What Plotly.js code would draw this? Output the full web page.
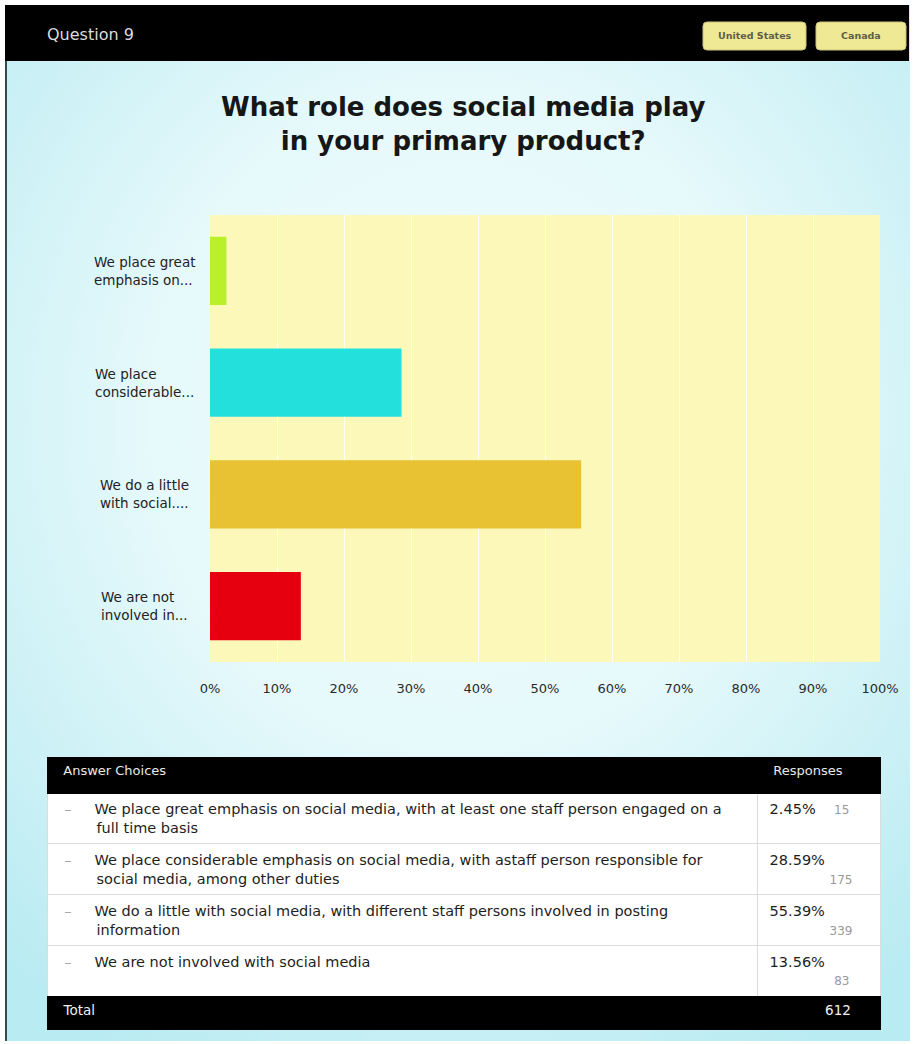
<!DOCTYPE html>
<html>
<head>
<meta charset="utf-8">
<script src="https://cdn.plot.ly/plotly-3.0.1.min.js"></script>
<style>
  html, body { margin:0; padding:0; background:#ffffff; }
  #wrap { position:relative; width:916px; height:1044px; overflow:hidden; background:#ffffff; }
  #bg { position:absolute; left:5px; top:5px; width:905px; height:1036px;
        background: radial-gradient(ellipse 75% 70% at 50% 40%, #f1fdfd 0%, #e6f9fb 45%, #c9f0f5 80%, #b9ebf2 100%);
        border-left:2px solid #3a4a4c; box-sizing:border-box; }
  #chart { position:absolute; left:0; top:0; width:916px; height:1044px; }
</style>
</head>
<body>
<div id="wrap"><div id="bg"></div><div id="chart"></div></div>
<script>
// ---- data ----
const categories = [
  "We place great<br>emphasis on...",
  "We place<br>considerable...",
  "We do a little<br>with social....",
  "We are not<br>involved in..."
];
const percents = [2.45, 28.59, 55.39, 13.56];
const counts = [15, 175, 339, 83];
const barColors = ["#baf02a", "#24e0dc", "#e8c232", "#e6000f"];
const answerLines = [
  ["We place great emphasis on social media, with at least one staff person engaged on a", "full time basis"],
  ["We place considerable emphasis on social media, with astaff person responsible for", "social media, among other duties"],
  ["We do a little with social media, with different staff persons involved in posting", "information"],
  ["We are not involved with social media", ""]
];
const totalCount = 612;
const xTickVals = [0, 10, 20, 30, 40, 50, 60, 70, 80, 90, 100];
const xTickText = ["0%", "10%", "20%", "30%", "40%", "50%", "60%", "70%", "80%", "90%", "100%"];
const tableHeader = ["Answer Choices", "Responses"];
const pageTitle = "What role does social media play<br>in your primary product?";
const questionLabel = "Question 9";
const buttons = ["United States", "Canada"];

// ---- helpers ----
const W = 916, H = 1044;
const FONT = "DejaVu Sans, Verdana, sans-serif";
const px = x => x / W;
const py = y => 1 - y / H;
const sp = n => "\u00a0".repeat(n);

function roundRect(x0, y0, x1, y1, r) {
  const X0 = px(x0), X1 = px(x1), Y0 = py(y0), Y1 = py(y1);
  const rx = r / W, ry = r / H;
  return `M${X0+rx},${Y0} L${X1-rx},${Y0} Q${X1},${Y0} ${X1},${Y0-ry} L${X1},${Y1+ry} Q${X1},${Y1} ${X1-rx},${Y1} L${X0+rx},${Y1} Q${X0},${Y1} ${X0},${Y1+ry} L${X0},${Y0-ry} Q${X0},${Y0} ${X0+rx},${Y0} Z`;
}

// ---- table cells ----
const bullet = "<span style='color:#aaaaaa'>\u2013</span>";
const col1 = answerLines.map(l => sp(2) + bullet + sp(5) + l[0] + "<br>" + (l[1] ? sp(9) + l[1] : sp(1)));
const col2 = percents.map((p, i) => {
  const pct = sp(1) + p.toFixed(2) + "%";
  const cnt = "<span style='color:#999999;font-size:12px'>" + counts[i] + "</span>";
  if (i === 0) return pct + sp(4) + cnt + "<br>" + sp(1);
  const pad = String(counts[i]).length === 2 ? 15 : 14;
  return "<br>".replace("<br>", pct + "<br>" + sp(pad) + cnt);
});
col1.push(sp(2) + "Total");
col2.push(sp(14) + totalCount);

const nRows = col1.length;
const isTot = i => i === nRows - 1;
const fillCol = Array.from({length: nRows}, (_, i) => isTot(i) ? "#000000" : "#ffffff");
const fontCol = Array.from({length: nRows}, (_, i) => isTot(i) ? "#f0f0f0" : "#1e1e1e");
const sizeCol = Array.from({length: nRows}, (_, i) => isTot(i) ? 13.5 : 14.5);
const lineCol = Array.from({length: nRows}, (_, i) => isTot(i) ? "#000000" : "#dcdcdc");

// y-axis category labels (left-aligned blocks, centred on the label column)
const labelAnnotations = categories.map(c => ({
  xref: "paper", yref: "y", x: px(144), y: c, xanchor: "center", yanchor: "middle",
  text: c, align: "left", showarrow: false,
  font: { family: FONT, size: 13.5, color: "#222222" }
}));

const traces = [
  {
    type: "bar",
    orientation: "h",
    y: categories,
    x: percents,
    marker: { color: barColors },
    width: 0.61,
    hoverinfo: "x",
    xaxis: "x", yaxis: "y"
  },
  {
    type: "table",
    domain: { x: [px(47), px(880)], y: [0, py(757)] },
    columnwidth: [710, 123],
    header: {
      values: [sp(2) + tableHeader[0], sp(2) + tableHeader[1]],
      align: "left",
      height: 36,
      fill: { color: "#000000" },
      line: { color: "#000000", width: 1 },
      font: { family: FONT, size: 13, color: "#e8e8e8" }
    },
    cells: {
      values: [col1, col2],
      align: "left",
      height: 33,
      fill: { color: [fillCol, fillCol] },
      line: { color: [lineCol, lineCol], width: 1 },
      font: { family: FONT, size: [sizeCol, sizeCol], color: [fontCol, fontCol] }
    }
  }
];

const shapes = [
  { type: "rect", xref: "paper", yref: "paper", x0: px(5), x1: px(909), y0: py(61), y1: py(5),
    fillcolor: "#000000", line: { width: 0 }, layer: "below" },
  { type: "path", xref: "paper", yref: "paper", path: roundRect(703, 22, 806, 50, 4),
    fillcolor: "#efe995", line: { color: "#c9c27a", width: 1 } },
  { type: "path", xref: "paper", yref: "paper", path: roundRect(816, 22, 906, 50, 4),
    fillcolor: "#efe995", line: { color: "#c9c27a", width: 1 } }
];

const annotations = [
  { xref: "paper", yref: "paper", x: px(45), y: py(34), xanchor: "left", yanchor: "middle",
    text: questionLabel, showarrow: false,
    font: { family: FONT, size: 16, color: "#dddddd" } },
  { xref: "paper", yref: "paper", x: px(754.5), y: py(36), xanchor: "center", yanchor: "middle",
    text: "<b>" + buttons[0] + "</b>", showarrow: false,
    font: { family: FONT, size: 9.5, color: "#5e5e48" } },
  { xref: "paper", yref: "paper", x: px(861), y: py(36), xanchor: "center", yanchor: "middle",
    text: "<b>" + buttons[1] + "</b>", showarrow: false,
    font: { family: FONT, size: 9.5, color: "#5e5e48" } },
  { xref: "paper", yref: "paper", x: px(463), y: py(124), xanchor: "center", yanchor: "middle",
    text: "<b>" + pageTitle + "</b>", showarrow: false, align: "center",
    font: { family: FONT, size: 26, color: "#161616" } }
].concat(labelAnnotations);

const layout = {
  width: W, height: H,
  margin: { l: 0, r: 0, t: 0, b: 0, pad: 0 },
  paper_bgcolor: "rgba(0,0,0,0)",
  plot_bgcolor: "#fbf8ba",
  showlegend: false,
  font: { family: FONT, color: "#222222" },
  xaxis: {
    domain: [px(210), px(880)],
    range: [0, 100],
    tickmode: "array",
    tickvals: xTickVals,
    ticktext: xTickText,
    showgrid: true, gridcolor: "rgba(255,255,255,0.85)", gridwidth: 1,
    zeroline: false, showline: false, ticks: "",
    ticklabelstandoff: 17,
    tickfont: { family: FONT, size: 13, color: "#2a2a2a" },
    fixedrange: true
  },
  yaxis: {
    domain: [py(662), py(215)],
    type: "category",
    autorange: "reversed",
    showgrid: false, zeroline: false, showline: false, ticks: "",
    showticklabels: false,
    fixedrange: true
  },
  shapes: shapes,
  annotations: annotations
};

Plotly.newPlot("chart", traces, layout, { displayModeBar: false });
</script>
</body>
</html>
